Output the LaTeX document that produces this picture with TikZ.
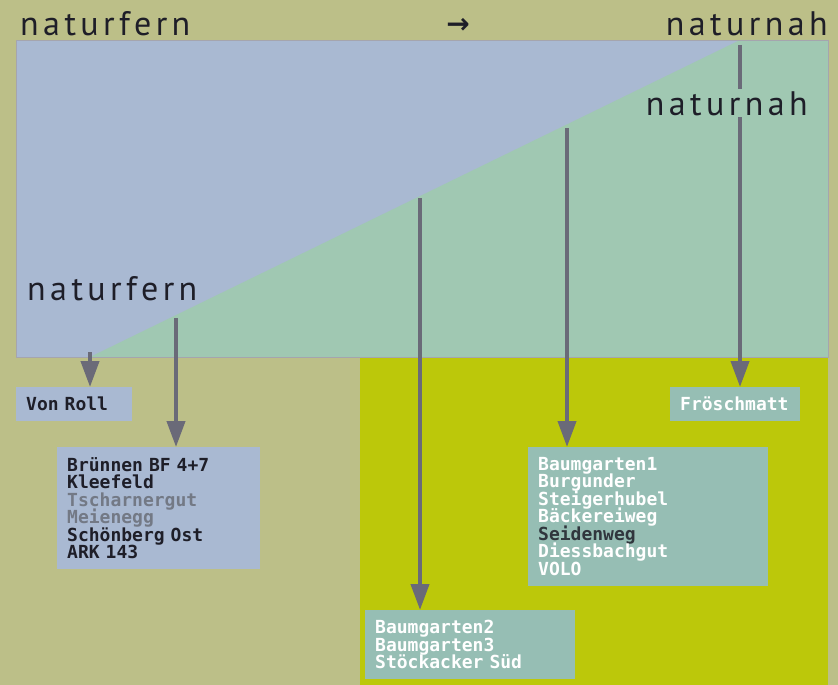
\documentclass[tikz,border=0pt]{standalone}
\usepackage{fontspec}
\setmainfont{PT Sans}
\newfontfamily\boxfont{DejaVuSansMono}[Extension=.ttf, BoldFont=DejaVuSansMono-Bold]
\newfontfamily\symfont{DejaVu Sans}
\newcommand\listfont{\boxfont\bfseries\fontsize{18}{17.5}\selectfont\lineskiplimit=-10pt\relax}
\usetikzlibrary{arrows.meta, positioning}
\definecolor{khaki}{HTML}{BCBF88}
\definecolor{lime}{HTML}{BCC80A}
\definecolor{skyblue}{HTML}{A9B9D2}
\definecolor{natgreen}{HTML}{A0C8B2}
\definecolor{boxteal}{HTML}{96BEB4}
\definecolor{arrowgray}{HTML}{6A6A78}
\definecolor{darktext}{HTML}{1E1E28}
\definecolor{midgray}{HTML}{737985}

\begin{document}
\begin{tikzpicture}[x=1pt, y=-1pt,
    box/.style={rectangle, anchor=north west, inner xsep=10pt, inner ysep=10pt, align=left, font=\listfont},
    bluebox/.style={box, fill=skyblue, text=darktext},
    tealbox/.style={box, fill=boxteal, text=white},
    arrow/.style={-{Triangle[width=18pt,length=26pt]}, line width=4pt, draw=arrowgray},
    scalelabel/.style={inner sep=0pt, text=darktext, font=\fontsize{34}{34}\selectfont\addfontfeature{LetterSpace=13}}
]

\useasboundingbox[fill=khaki] (0,0) rectangle (838,685);
\fill[lime] (360,357) rectangle (828,685);

% scale from naturfern to naturnah
\fill[skyblue] (16,40) rectangle (828,357);
\fill[natgreen] (90,357) -- (740,40) -- (828,40) -- (828,357) -- cycle;
\draw[arrowgray!60, line width=0.6pt] (16,40) rectangle (828,357);

\node[scalelabel, anchor=base west] (fern) at (20,36) {naturfern};
\node[scalelabel, anchor=base east] (nah) at (828,36) {naturnah};
\node[inner sep=0pt, text=darktext, font=\symfont\bfseries\fontsize{28}{28}\selectfont] (dir) at (458,26) {→};
\node[scalelabel, anchor=base west] (fernlow) at (27,300) {naturfern};

\coordinate (s1) at (90,352);
\coordinate (s2) at (176,318);
\coordinate (s3) at (420,198);
\coordinate (s4) at (567,128);
\coordinate (s5) at (740,45);

\node[bluebox, text width=96pt] (vonroll) at (16,387) {Von Roll};
\node[bluebox, text width=183pt] (bruennen) at (57,447) {Brünnen BF 4+7\\Kleefeld\\{\color{midgray}Tscharnergut}\\{\color{midgray}Meienegg}\\Schönberg Ost\\ARK 143};
\node[tealbox, text width=110pt, inner xsep=10pt] (frosch) at (670,387) {Fröschmatt};
\node[tealbox, text width=220pt] (baum1) at (528,447) {Baumgarten1\\Burgunder\\Steigerhubel\\Bäckereiweg\\{\color{darktext!85!boxteal}Seidenweg}\\Diessbachgut\\VOLO};
\node[tealbox, text width=190pt] (baum2) at (365,610) {Baumgarten2\\Baumgarten3\\Stöckacker Süd};

\draw[arrow] (s1) -- (s1 |- vonroll.north);
\draw[arrow] (s2) -- (s2 |- bruennen.north);
\draw[arrow] (s3) -- (s3 |- baum2.north);
\draw[arrow] (s4) -- (s4 |- baum1.north);
\draw[arrow] (s5) -- (s5 |- frosch.north);

\node[scalelabel, anchor=base east, fill=natgreen, inner sep=2pt] (nahhigh) at (810,115) {naturnah};

\end{tikzpicture}
\end{document}
